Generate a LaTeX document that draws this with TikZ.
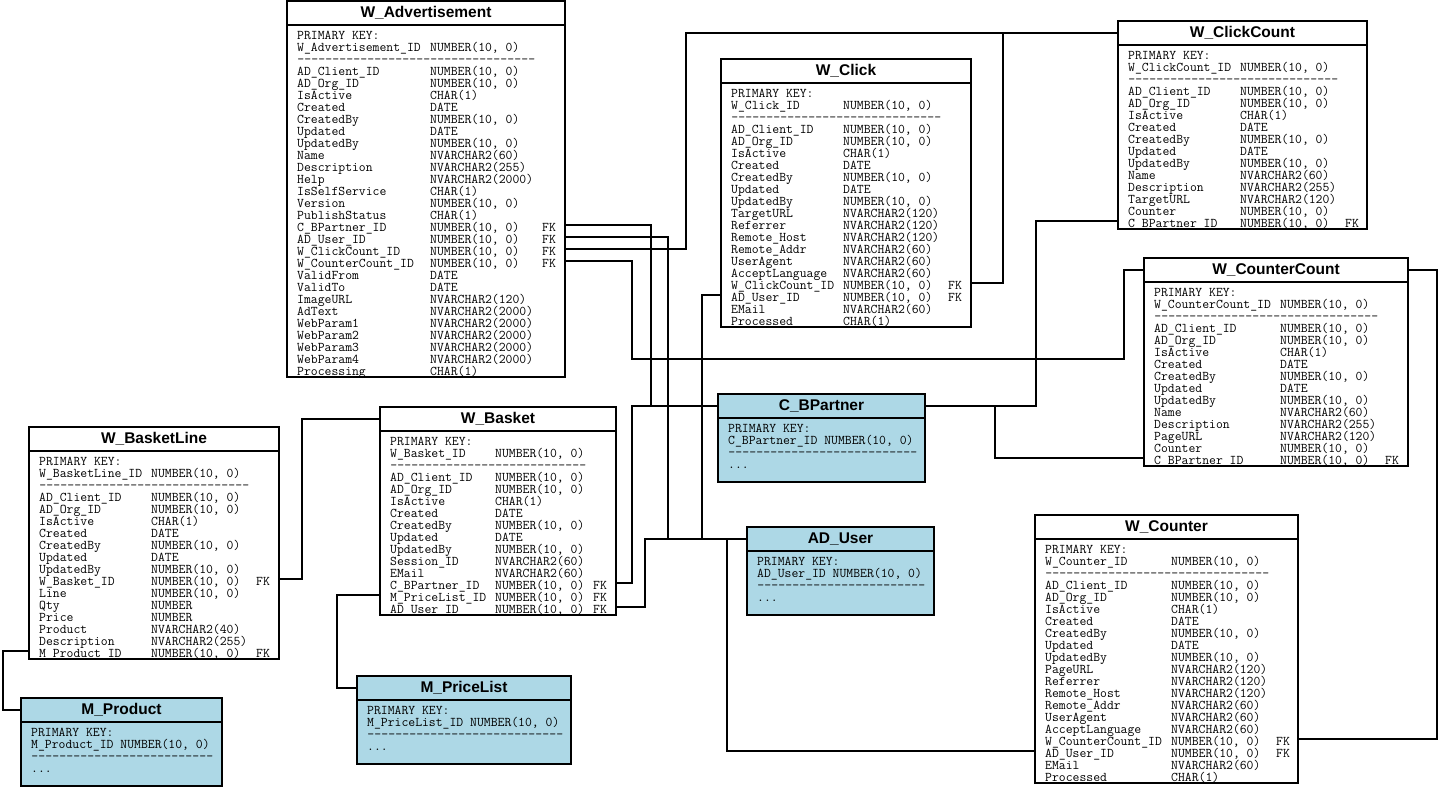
\documentclass[tikz,border=0pt]{standalone}
\usepackage{fontspec}
\setsansfont{Liberation Sans}
\definecolor{refblue}{RGB}{173,216,230}
\newlength\chw
\setlength\chw{7pt}
\newcommand\fld[2]{\makebox[#1\chw][l]{#2}}
\newcommand\dashes[1]{\hbox to \dimexpr#1\chw\relax{\xleaders\hbox to \chw{\hss-\hss}\hfill}}
\newcommand\colfont{\ttfamily\fontsize{13.33pt}{12pt}\selectfont
  \setlength\lineskiplimit{-20pt}\setlength\lineskip{0pt}}
\newcommand\stdrows[1]{%
\fld{#1}{AD\_Client\_ID}NUMBER(10, 0)\\
\fld{#1}{AD\_Org\_ID}NUMBER(10, 0)\\
\fld{#1}{IsActive}CHAR(1)\\
\fld{#1}{Created}DATE\\
\fld{#1}{CreatedBy}NUMBER(10, 0)\\
\fld{#1}{Updated}DATE\\
\fld{#1}{UpdatedBy}NUMBER(10, 0)}
\tikzset{
  ttl/.style={draw, line width=1.6pt, anchor=north west, outer sep=0pt, inner sep=0pt,
    minimum height=24pt, font=\sffamily\bfseries\fontsize{15.5pt}{18pt}\selectfont},
  bdy/.style={draw, line width=1.6pt, anchor=north west, outer sep=0pt, inner sep=0pt},
  cols/.style={anchor=north west, inner sep=0pt, align=left, font=\colfont},
  ref/.style={fill=refblue},
  link/.style={line width=1.6pt}
}

\begin{document}
\begin{tikzpicture}[x=1pt, y=-1pt]
% Tablas de publicidad web, contadores y cesta con sus claves foraneas
\useasboundingbox (0,0) rectangle (1442,788);

\node (advert) at (287,1) [ttl, minimum width=278pt] {W\_Advertisement};
\node (advert-b) at (advert.south west) [bdy, minimum width=278pt, minimum height=352pt] {};
\node (advert-t) at ([xshift=10pt,yshift=-4pt]advert-b.north west) [cols] {\rule{0pt}{10pt}PRIMARY KEY:\\
\fld{19}{W\_Advertisement\_ID}NUMBER(10, 0)\\
\dashes{34}\\
\stdrows{19}\\
\fld{19}{Name}NVARCHAR2(60)\\
\fld{19}{Description}NVARCHAR2(255)\\
\fld{19}{Help}NVARCHAR2(2000)\\
\fld{19}{IsSelfService}CHAR(1)\\
\fld{19}{Version}NUMBER(10, 0)\\
\fld{19}{PublishStatus}CHAR(1)\\
\fld{19}{C\_BPartner\_ID}\fld{16}{NUMBER(10, 0)}FK\\
\fld{19}{AD\_User\_ID}\fld{16}{NUMBER(10, 0)}FK\\
\fld{19}{W\_ClickCount\_ID}\fld{16}{NUMBER(10, 0)}FK\\
\fld{19}{W\_CounterCount\_ID}\fld{16}{NUMBER(10, 0)}FK\\
\fld{19}{ValidFrom}DATE\\
\fld{19}{ValidTo}DATE\\
\fld{19}{ImageURL}NVARCHAR2(120)\\
\fld{19}{AdText}NVARCHAR2(2000)\\
\fld{19}{WebParam1}NVARCHAR2(2000)\\
\fld{19}{WebParam2}NVARCHAR2(2000)\\
\fld{19}{WebParam3}NVARCHAR2(2000)\\
\fld{19}{WebParam4}NVARCHAR2(2000)\\
\fld{19}{Processing}CHAR(1)};

\node (click) at (721,59) [ttl, minimum width=250pt] {W\_Click};
\node (click-b) at (click.south west) [bdy, minimum width=250pt, minimum height=244pt] {};
\node (click-t) at ([xshift=10pt,yshift=-4pt]click-b.north west) [cols] {\rule{0pt}{10pt}PRIMARY KEY:\\
\fld{16}{W\_Click\_ID}NUMBER(10, 0)\\
\dashes{30}\\
\stdrows{16}\\
\fld{16}{TargetURL}NVARCHAR2(120)\\
\fld{16}{Referrer}NVARCHAR2(120)\\
\fld{16}{Remote\_Host}NVARCHAR2(120)\\
\fld{16}{Remote\_Addr}NVARCHAR2(60)\\
\fld{16}{UserAgent}NVARCHAR2(60)\\
\fld{16}{AcceptLanguage}NVARCHAR2(60)\\
\fld{16}{W\_ClickCount\_ID}\fld{15}{NUMBER(10, 0)}FK\\
\fld{16}{AD\_User\_ID}\fld{15}{NUMBER(10, 0)}FK\\
\fld{16}{EMail}NVARCHAR2(60)\\
\fld{16}{Processed}CHAR(1)};

\node (clickcnt) at (1118,21) [ttl, minimum width=249pt] {W\_ClickCount};
\node (clickcnt-b) at (clickcnt.south west) [bdy, minimum width=249pt, minimum height=184pt] {};
\node (clickcnt-t) at ([xshift=10pt,yshift=-4pt]clickcnt-b.north west) [cols] {\rule{0pt}{10pt}PRIMARY KEY:\\
\fld{16}{W\_ClickCount\_ID}NUMBER(10, 0)\\
\dashes{30}\\
\stdrows{16}\\
\fld{16}{Name}NVARCHAR2(60)\\
\fld{16}{Description}NVARCHAR2(255)\\
\fld{16}{TargetURL}NVARCHAR2(120)\\
\fld{16}{Counter}NUMBER(10, 0)\\
\fld{16}{C\_BPartner\_ID}\fld{15}{NUMBER(10, 0)}FK};

\node (countercnt) at (1144,258) [ttl, minimum width=264pt] {W\_CounterCount};
\node (countercnt-b) at (countercnt.south west) [bdy, minimum width=264pt, minimum height=184pt] {};
\node (countercnt-t) at ([xshift=10pt,yshift=-4pt]countercnt-b.north west) [cols] {\rule{0pt}{10pt}PRIMARY KEY:\\
\fld{18}{W\_CounterCount\_ID}NUMBER(10, 0)\\
\dashes{32}\\
\stdrows{18}\\
\fld{18}{Name}NVARCHAR2(60)\\
\fld{18}{Description}NVARCHAR2(255)\\
\fld{18}{PageURL}NVARCHAR2(120)\\
\fld{18}{Counter}NUMBER(10, 0)\\
\fld{18}{C\_BPartner\_ID}\fld{15}{NUMBER(10, 0)}FK};

\node (counter) at (1035,515) [ttl, minimum width=263pt] {W\_Counter};
\node (counter-b) at (counter.south west) [bdy, minimum width=263pt, minimum height=244pt] {};
\node (counter-t) at ([xshift=10pt,yshift=-4pt]counter-b.north west) [cols] {\rule{0pt}{10pt}PRIMARY KEY:\\
\fld{18}{W\_Counter\_ID}NUMBER(10, 0)\\
\dashes{32}\\
\stdrows{18}\\
\fld{18}{PageURL}NVARCHAR2(120)\\
\fld{18}{Referrer}NVARCHAR2(120)\\
\fld{18}{Remote\_Host}NVARCHAR2(120)\\
\fld{18}{Remote\_Addr}NVARCHAR2(60)\\
\fld{18}{UserAgent}NVARCHAR2(60)\\
\fld{18}{AcceptLanguage}NVARCHAR2(60)\\
\fld{18}{W\_CounterCount\_ID}\fld{15}{NUMBER(10, 0)}FK\\
\fld{18}{AD\_User\_ID}\fld{15}{NUMBER(10, 0)}FK\\
\fld{18}{EMail}NVARCHAR2(60)\\
\fld{18}{Processed}CHAR(1)};

\node (basket) at (380,407) [ttl, minimum width=236pt] {W\_Basket};
\node (basket-b) at (basket.south west) [bdy, minimum width=236pt, minimum height=184pt] {};
\node (basket-t) at ([xshift=10pt,yshift=-4pt]basket-b.north west) [cols] {\rule{0pt}{10pt}PRIMARY KEY:\\
\fld{15}{W\_Basket\_ID}NUMBER(10, 0)\\
\dashes{28}\\
\stdrows{15}\\
\fld{15}{Session\_ID}NVARCHAR2(60)\\
\fld{15}{EMail}NVARCHAR2(60)\\
\fld{15}{C\_BPartner\_ID}\fld{14}{NUMBER(10, 0)}FK\\
\fld{15}{M\_PriceList\_ID}\fld{14}{NUMBER(10, 0)}FK\\
\fld{15}{AD\_User\_ID}\fld{14}{NUMBER(10, 0)}FK};

\node (bline) at (29,427) [ttl, minimum width=250pt] {W\_BasketLine};
\node (bline-b) at (bline.south west) [bdy, minimum width=250pt, minimum height=208pt] {};
\node (bline-t) at ([xshift=10pt,yshift=-4pt]bline-b.north west) [cols] {\rule{0pt}{10pt}PRIMARY KEY:\\
\fld{16}{W\_BasketLine\_ID}NUMBER(10, 0)\\
\dashes{30}\\
\stdrows{16}\\
\fld{16}{W\_Basket\_ID}\fld{15}{NUMBER(10, 0)}FK\\
\fld{16}{Line}NUMBER(10, 0)\\
\fld{16}{Qty}NUMBER\\
\fld{16}{Price}NUMBER\\
\fld{16}{Product}NVARCHAR2(40)\\
\fld{16}{Description}NVARCHAR2(255)\\
\fld{16}{M\_Product\_ID}\fld{15}{NUMBER(10, 0)}FK};

\node (bpartner) at (718,394) [ttl, ref, minimum width=207pt] {C\_BPartner};
\node (bpartner-b) at (bpartner.south west) [bdy, ref, minimum width=207pt, minimum height=64pt] {};
\node (bpartner-t) at ([xshift=10pt,yshift=-4pt]bpartner-b.north west) [cols] {\rule{0pt}{10pt}PRIMARY KEY:\\
C\_BPartner\_ID NUMBER(10, 0)\\
\dashes{27}\\
...};

\node (aduser) at (747,527) [ttl, ref, minimum width=187pt] {AD\_User};
\node (aduser-b) at (aduser.south west) [bdy, ref, minimum width=187pt, minimum height=64pt] {};
\node (aduser-t) at ([xshift=10pt,yshift=-4pt]aduser-b.north west) [cols] {\rule{0pt}{10pt}PRIMARY KEY:\\
AD\_User\_ID NUMBER(10, 0)\\
\dashes{24}\\
...};

\node (product) at (21,698) [ttl, ref, minimum width=201pt] {M\_Product};
\node (product-b) at (product.south west) [bdy, ref, minimum width=201pt, minimum height=64pt] {};
\node (product-t) at ([xshift=10pt,yshift=-4pt]product-b.north west) [cols] {\rule{0pt}{10pt}PRIMARY KEY:\\
M\_Product\_ID NUMBER(10, 0)\\
\dashes{26}\\
...};

\node (pricelist) at (357,676) [ttl, ref, minimum width=214pt] {M\_PriceList};
\node (pricelist-b) at (pricelist.south west) [bdy, ref, minimum width=214pt, minimum height=64pt] {};
\node (pricelist-t) at ([xshift=10pt,yshift=-4pt]pricelist-b.north west) [cols] {\rule{0pt}{10pt}PRIMARY KEY:\\
M\_PriceList\_ID NUMBER(10, 0)\\
\dashes{28}\\
...};

\draw[link] ([yshift=-224pt]advert.north east) -| ([xshift=-67pt]bpartner.west) -- (bpartner.west);
\draw[link] ([yshift=-236pt]advert.north east) -| ([xshift=-79pt]aduser.west) -- (aduser.west);
\draw[link] ([yshift=-248pt]advert.north east) -| ([xshift=-432pt]clickcnt.west) -- (clickcnt.west);
\draw[link] ([yshift=-260pt]advert.north east) -| ([xshift=67pt,yshift=-358pt]advert.north east)
  -| ([xshift=-20pt]countercnt.west) -- (countercnt.west);
\draw[link] ([yshift=-224pt]click.north east) -| ([xshift=-115pt]clickcnt.west);
\draw[link] ([yshift=-236pt]click.north west) -| ([xshift=-45pt]aduser.west);
\draw[link] ([yshift=-200pt]clickcnt.north west) -| ([xshift=111pt]bpartner.east) -- (bpartner.east);
\draw[link] ([yshift=-200pt]countercnt.north west) -| ([xshift=70pt]bpartner.east);
\draw[link] ([yshift=-224pt]counter.north east) -| ([xshift=29pt]countercnt.east) -- (countercnt.east);
\draw[link] ([yshift=-236pt]counter.north west) -| ([xshift=-20pt]aduser.west);
\draw[link] ([yshift=-176pt]basket.north east) -| ([xshift=-86pt]bpartner.west) -- (bpartner.west);
\draw[link] ([yshift=-200pt]basket.north east) -| ([xshift=-102pt]aduser.west) -- (aduser.west);
\draw[link] ([yshift=-188pt]basket.north west) -| ([xshift=-20pt]pricelist.west) -- (pricelist.west);
\draw[link] ([yshift=-152pt]bline.north east) -| ([xshift=-78pt]basket.west) -- (basket.west);
\draw[link] ([yshift=-224pt]bline.north west) -| ([xshift=-18pt]product.west) -- (product.west);
\end{tikzpicture}
\end{document}
